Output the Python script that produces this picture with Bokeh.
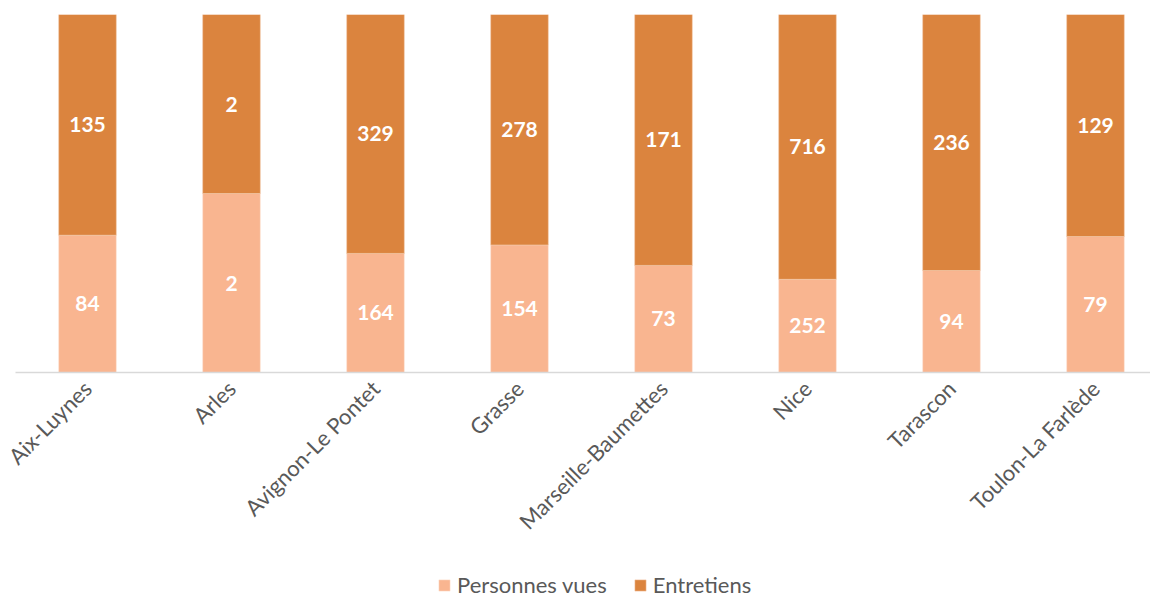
from bokeh.plotting import figure
from bokeh.models import ColumnDataSource, Range1d, Legend, LegendItem, FixedTicker, LabelSet
from bokeh.embed import file_html
from bokeh.resources import INLINE
from bokeh.core.properties import value
import math

categories = ["Aix-Luynes", "Arles", "Avignon-Le Pontet", "Grasse", "Marseille-Baumettes",
              "Nice", "Tarascon", "Toulon-La Farlède"]
personnes_vues = [84, 2, 164, 154, 73, 252, 94, 79]
entretiens = [135, 2, 329, 278, 171, 716, 236, 129]

LIGHT = "#F9B590"
DARK = "#DB843E"

xs = list(range(len(categories)))
tot = [a + b for a, b in zip(personnes_vues, entretiens)]
p_share = [a / t for a, t in zip(personnes_vues, tot)]
e_top = [1.0] * len(categories)

src = ColumnDataSource(dict(
    x=xs, p0=[0] * len(xs), p1=p_share, e1=e_top,
    pmid=[s / 2 for s in p_share], emid=[(s + 1) / 2 for s in p_share],
    plab=[str(v) for v in personnes_vues], elab=[str(v) for v in entretiens],
))

p = figure(frame_width=1150, frame_height=585, output_backend="svg", toolbar_location=None,
           x_range=Range1d(-0.5 - 15 / 144, 7.382), y_range=Range1d(-227 / 358, 1),
           min_border_left=0, min_border_right=0, min_border_top=14, min_border_bottom=0,
           outline_line_color=None, background_fill_color="white", border_fill_color="white")

r1 = p.vbar(x="x", bottom="p0", top="p1", width=0.4, source=src, fill_color=LIGHT,
            line_color="#FDE3D3", line_width=0.5)
r2 = p.vbar(x="x", bottom="p1", top="e1", width=0.4, source=src, fill_color=DARK,
            line_color="#F3C9A8", line_width=0.5)

for ycol, tcol in (("pmid", "plab"), ("emid", "elab")):
    p.add_layout(LabelSet(x="x", y=ycol, text=tcol, source=src, text_align="center",
                          text_baseline="middle", text_color="white", text_font=value("Lato"),
                          text_font_style="bold", text_font_size="21px"))

p.yaxis.visible = False
p.xgrid.visible = False
p.ygrid.visible = False

ax = p.xaxis[0]
ax.fixed_location = 0
ax.bounds = (-0.5, 7.5)
ax.ticker = FixedTicker(ticks=xs)
ax.major_label_overrides = {i: c for i, c in enumerate(categories)}
ax.major_label_orientation = math.pi / 4
ax.major_label_text_font = "Lato"
ax.major_label_text_font_size = "22px"
ax.major_label_text_color = "#595959"
ax.major_label_standoff = 6
ax.major_tick_line_color = None
ax.minor_tick_line_color = None
ax.axis_line_color = "#D9D9D9"
ax.axis_line_width = 1.5

legend = Legend(items=[LegendItem(label="Personnes vues", renderers=[r1]),
                       LegendItem(label="Entretiens", renderers=[r2])],
                orientation="horizontal", location=(437, 1),
                label_text_font="Lato", label_text_font_size="22px", label_text_color="#595959",
                glyph_width=14, glyph_height=14, label_height=20, spacing=26, label_standoff=6,
                border_line_color=None, background_fill_alpha=0, padding=0, margin=0)
p.add_layout(legend, "center")

open("out.html", "w").write(file_html(p, INLINE))
